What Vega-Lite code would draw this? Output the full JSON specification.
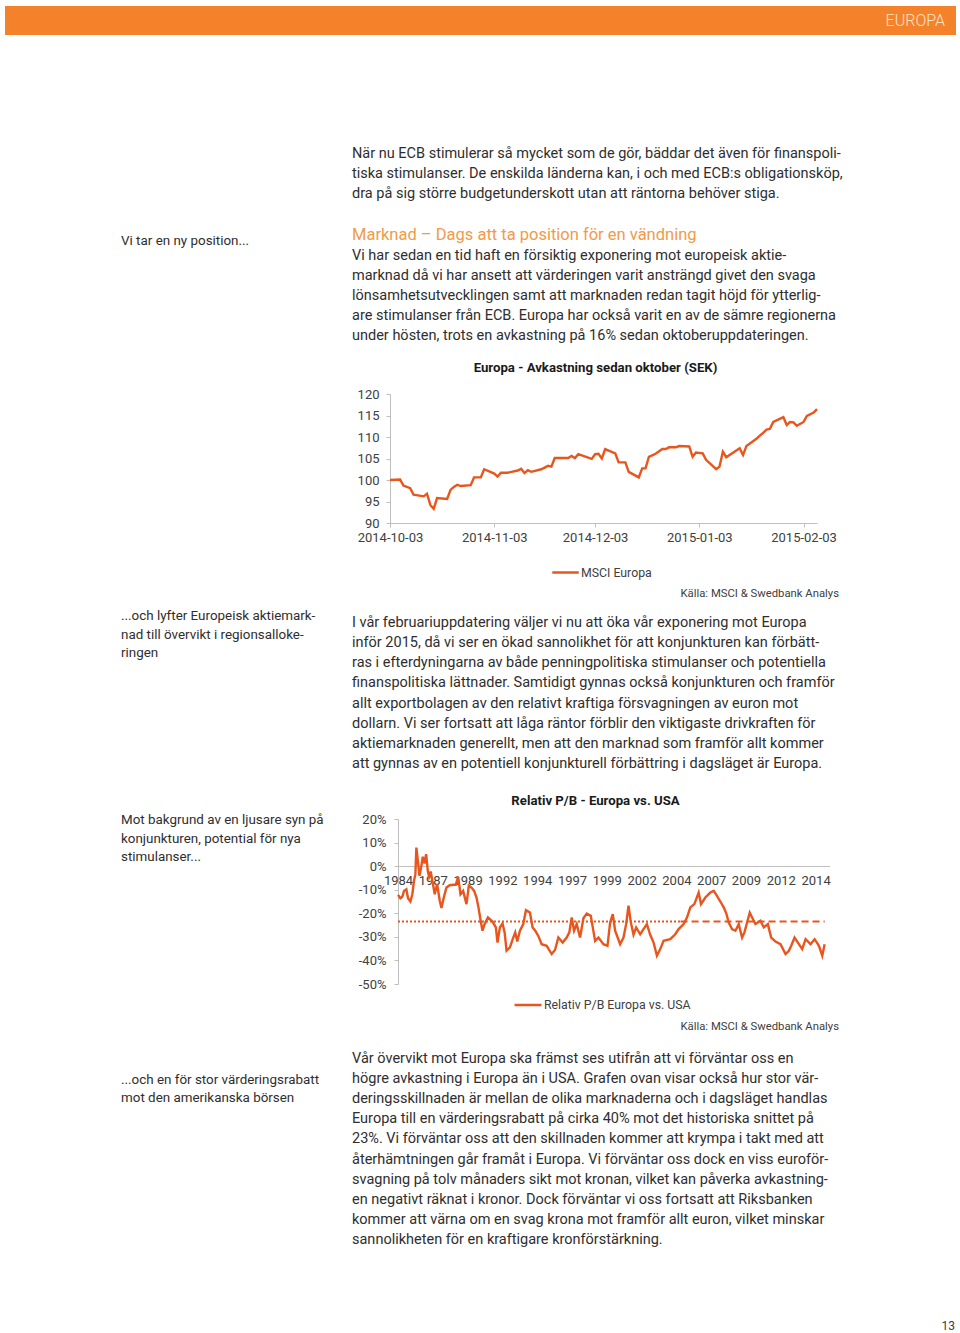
{
  "$schema": "https://vega.github.io/schema/vega-lite/v6.json",
  "width": 960,
  "height": 1333,
  "autosize": {"type": "none"},
  "padding": 0,
  "background": "white",
  "config": {"view": {"stroke": null}, "font": "Roboto"},
  "datasets": {
    "lines": [
      {"block": "p1", "line": 1, "text": "När nu ECB stimulerar så mycket som de gör, bäddar det även för finanspoli-"},
      {"block": "p1", "line": 2, "text": "tiska stimulanser. De enskilda länderna kan, i och med ECB:s obligationsköp,"},
      {"block": "p1", "line": 3, "text": "dra på sig större budgetunderskott utan att räntorna behöver stiga."},
      {"block": "s1", "line": 1, "text": "Vi tar en ny position..."},
      {"block": "h1", "line": 1, "text": "Marknad – Dags att ta position för en vändning"},
      {"block": "p2", "line": 1, "text": "Vi har sedan en tid haft en försiktig exponering mot europeisk aktie-"},
      {"block": "p2", "line": 2, "text": "marknad då vi har ansett att värderingen varit ansträngd givet den svaga"},
      {"block": "p2", "line": 3, "text": "lönsamhetsutvecklingen samt att marknaden redan tagit höjd för ytterlig-"},
      {"block": "p2", "line": 4, "text": "are stimulanser från ECB. Europa har också varit en av de sämre regionerna"},
      {"block": "p2", "line": 5, "text": "under hösten, trots en avkastning på 16% sedan oktoberuppdateringen."},
      {"block": "t1", "line": 1, "text": "Europa - Avkastning sedan oktober (SEK)"},
      {"block": "k1", "line": 1, "text": "Källa: MSCI & Swedbank Analys"},
      {"block": "s2", "line": 1, "text": "...och lyfter Europeisk aktiemark-"},
      {"block": "s2", "line": 2, "text": "nad till övervikt i regionsalloke-"},
      {"block": "s2", "line": 3, "text": "ringen"},
      {"block": "p3", "line": 1, "text": "I vår februariuppdatering väljer vi nu att öka vår exponering mot Europa"},
      {"block": "p3", "line": 2, "text": "inför 2015, då vi ser en ökad sannolikhet för att konjunkturen kan förbätt-"},
      {"block": "p3", "line": 3, "text": "ras i efterdyningarna av både penningpolitiska stimulanser och potentiella"},
      {"block": "p3", "line": 4, "text": "finanspolitiska lättnader. Samtidigt gynnas också konjunkturen och framför"},
      {"block": "p3", "line": 5, "text": "allt exportbolagen av den relativt kraftiga försvagningen av euron mot"},
      {"block": "p3", "line": 6, "text": "dollarn. Vi ser fortsatt att låga räntor förblir den viktigaste drivkraften för"},
      {"block": "p3", "line": 7, "text": "aktiemarknaden generellt, men att den marknad som framför allt kommer"},
      {"block": "p3", "line": 8, "text": "att gynnas av en potentiell konjunkturell förbättring i dagsläget är Europa."},
      {"block": "t2", "line": 1, "text": "Relativ P/B - Europa vs. USA"},
      {"block": "s3", "line": 1, "text": "Mot bakgrund av en ljusare syn på"},
      {"block": "s3", "line": 2, "text": "konjunkturen, potential för nya"},
      {"block": "s3", "line": 3, "text": "stimulanser..."},
      {"block": "k2", "line": 1, "text": "Källa: MSCI & Swedbank Analys"},
      {"block": "p4", "line": 1, "text": "Vår övervikt mot Europa ska främst ses utifrån att vi förväntar oss en"},
      {"block": "p4", "line": 2, "text": "högre avkastning i Europa än i USA. Grafen ovan visar också hur stor vär-"},
      {"block": "p4", "line": 3, "text": "deringsskillnaden är mellan de olika marknaderna och i dagsläget handlas"},
      {"block": "p4", "line": 4, "text": "Europa till en värderingsrabatt på cirka 40% mot det historiska snittet på"},
      {"block": "p4", "line": 5, "text": "23%. Vi förväntar oss att den skillnaden kommer att krympa i takt med att"},
      {"block": "p4", "line": 6, "text": "återhämtningen går framåt i Europa. Vi förväntar oss dock en viss euroför-"},
      {"block": "p4", "line": 7, "text": "svagning på tolv månaders sikt mot kronan, vilket kan påverka avkastning-"},
      {"block": "p4", "line": 8, "text": "en negativt räknat i kronor. Dock förväntar vi oss fortsatt att Riksbanken"},
      {"block": "p4", "line": 9, "text": "kommer att värna om en svag krona mot framför allt euron, vilket minskar"},
      {"block": "p4", "line": 10, "text": "sannolikheten för en kraftigare kronförstärkning."},
      {"block": "s4", "line": 1, "text": "...och en för stor värderingsrabatt"},
      {"block": "s4", "line": 2, "text": "mot den amerikanska börsen"},
      {"block": "pg", "line": 1, "text": "13"}
    ],
    "msci": [
      {"date": "2014-10-03", "value": 100.0, "series": "MSCI Europa"},
      {"date": "2014-10-06", "value": 100.1, "series": "MSCI Europa"},
      {"date": "2014-10-07", "value": 98.7, "series": "MSCI Europa"},
      {"date": "2014-10-08", "value": 98.4, "series": "MSCI Europa"},
      {"date": "2014-10-09", "value": 98.1, "series": "MSCI Europa"},
      {"date": "2014-10-10", "value": 96.6, "series": "MSCI Europa"},
      {"date": "2014-10-13", "value": 96.2, "series": "MSCI Europa"},
      {"date": "2014-10-14", "value": 96.8, "series": "MSCI Europa"},
      {"date": "2014-10-15", "value": 94.2, "series": "MSCI Europa"},
      {"date": "2014-10-16", "value": 93.3, "series": "MSCI Europa"},
      {"date": "2014-10-17", "value": 95.8, "series": "MSCI Europa"},
      {"date": "2014-10-20", "value": 95.6, "series": "MSCI Europa"},
      {"date": "2014-10-21", "value": 97.7, "series": "MSCI Europa"},
      {"date": "2014-10-22", "value": 98.4, "series": "MSCI Europa"},
      {"date": "2014-10-23", "value": 98.9, "series": "MSCI Europa"},
      {"date": "2014-10-24", "value": 98.6, "series": "MSCI Europa"},
      {"date": "2014-10-27", "value": 98.8, "series": "MSCI Europa"},
      {"date": "2014-10-28", "value": 100.6, "series": "MSCI Europa"},
      {"date": "2014-10-30", "value": 100.6, "series": "MSCI Europa"},
      {"date": "2014-10-31", "value": 102.5, "series": "MSCI Europa"},
      {"date": "2014-11-03", "value": 101.5, "series": "MSCI Europa"},
      {"date": "2014-11-04", "value": 100.8, "series": "MSCI Europa"},
      {"date": "2014-11-05", "value": 101.7, "series": "MSCI Europa"},
      {"date": "2014-11-07", "value": 101.7, "series": "MSCI Europa"},
      {"date": "2014-11-10", "value": 102.2, "series": "MSCI Europa"},
      {"date": "2014-11-11", "value": 102.6, "series": "MSCI Europa"},
      {"date": "2014-11-12", "value": 101.6, "series": "MSCI Europa"},
      {"date": "2014-11-13", "value": 102.3, "series": "MSCI Europa"},
      {"date": "2014-11-14", "value": 101.9, "series": "MSCI Europa"},
      {"date": "2014-11-17", "value": 102.5, "series": "MSCI Europa"},
      {"date": "2014-11-19", "value": 103.3, "series": "MSCI Europa"},
      {"date": "2014-11-20", "value": 103.1, "series": "MSCI Europa"},
      {"date": "2014-11-21", "value": 105.1, "series": "MSCI Europa"},
      {"date": "2014-11-25", "value": 105.1, "series": "MSCI Europa"},
      {"date": "2014-11-26", "value": 105.6, "series": "MSCI Europa"},
      {"date": "2014-11-27", "value": 105.1, "series": "MSCI Europa"},
      {"date": "2014-11-28", "value": 106.0, "series": "MSCI Europa"},
      {"date": "2014-12-02", "value": 104.9, "series": "MSCI Europa"},
      {"date": "2014-12-03", "value": 106.0, "series": "MSCI Europa"},
      {"date": "2014-12-04", "value": 106.1, "series": "MSCI Europa"},
      {"date": "2014-12-05", "value": 105.0, "series": "MSCI Europa"},
      {"date": "2014-12-06", "value": 107.2, "series": "MSCI Europa"},
      {"date": "2014-12-09", "value": 106.2, "series": "MSCI Europa"},
      {"date": "2014-12-10", "value": 104.1, "series": "MSCI Europa"},
      {"date": "2014-12-12", "value": 104.1, "series": "MSCI Europa"},
      {"date": "2014-12-13", "value": 101.9, "series": "MSCI Europa"},
      {"date": "2014-12-16", "value": 100.6, "series": "MSCI Europa"},
      {"date": "2014-12-17", "value": 102.7, "series": "MSCI Europa"},
      {"date": "2014-12-18", "value": 102.7, "series": "MSCI Europa"},
      {"date": "2014-12-19", "value": 105.4, "series": "MSCI Europa"},
      {"date": "2014-12-21", "value": 106.1, "series": "MSCI Europa"},
      {"date": "2014-12-23", "value": 107.2, "series": "MSCI Europa"},
      {"date": "2014-12-24", "value": 107.2, "series": "MSCI Europa"},
      {"date": "2014-12-25", "value": 107.6, "series": "MSCI Europa"},
      {"date": "2014-12-27", "value": 107.6, "series": "MSCI Europa"},
      {"date": "2014-12-28", "value": 107.9, "series": "MSCI Europa"},
      {"date": "2014-12-31", "value": 107.8, "series": "MSCI Europa"},
      {"date": "2015-01-01", "value": 105.4, "series": "MSCI Europa"},
      {"date": "2015-01-02", "value": 106.4, "series": "MSCI Europa"},
      {"date": "2015-01-04", "value": 106.2, "series": "MSCI Europa"},
      {"date": "2015-01-05", "value": 104.7, "series": "MSCI Europa"},
      {"date": "2015-01-08", "value": 102.5, "series": "MSCI Europa"},
      {"date": "2015-01-09", "value": 103.1, "series": "MSCI Europa"},
      {"date": "2015-01-10", "value": 106.6, "series": "MSCI Europa"},
      {"date": "2015-01-11", "value": 105.3, "series": "MSCI Europa"},
      {"date": "2015-01-15", "value": 107.4, "series": "MSCI Europa"},
      {"date": "2015-01-16", "value": 105.8, "series": "MSCI Europa"},
      {"date": "2015-01-17", "value": 107.9, "series": "MSCI Europa"},
      {"date": "2015-01-20", "value": 109.6, "series": "MSCI Europa"},
      {"date": "2015-01-23", "value": 111.7, "series": "MSCI Europa"},
      {"date": "2015-01-24", "value": 111.9, "series": "MSCI Europa"},
      {"date": "2015-01-25", "value": 113.5, "series": "MSCI Europa"},
      {"date": "2015-01-28", "value": 114.6, "series": "MSCI Europa"},
      {"date": "2015-01-29", "value": 112.8, "series": "MSCI Europa"},
      {"date": "2015-01-30", "value": 113.5, "series": "MSCI Europa"},
      {"date": "2015-01-31", "value": 113.4, "series": "MSCI Europa"},
      {"date": "2015-02-01", "value": 112.6, "series": "MSCI Europa"},
      {"date": "2015-02-03", "value": 113.5, "series": "MSCI Europa"},
      {"date": "2015-02-04", "value": 114.9, "series": "MSCI Europa"},
      {"date": "2015-02-06", "value": 115.7, "series": "MSCI Europa"},
      {"date": "2015-02-07", "value": 116.5, "series": "MSCI Europa"}
    ],
    "pb": [
      {"year": 1984.00, "value": -12.2, "series": "Relativ P/B Europa vs. USA"},
      {"year": 1984.17, "value": -13.6, "series": "Relativ P/B Europa vs. USA"},
      {"year": 1984.31, "value": -13.0, "series": "Relativ P/B Europa vs. USA"},
      {"year": 1984.43, "value": -10.5, "series": "Relativ P/B Europa vs. USA"},
      {"year": 1984.60, "value": -9.8, "series": "Relativ P/B Europa vs. USA"},
      {"year": 1984.72, "value": -13.6, "series": "Relativ P/B Europa vs. USA"},
      {"year": 1984.89, "value": -15.0, "series": "Relativ P/B Europa vs. USA"},
      {"year": 1985.03, "value": -11.9, "series": "Relativ P/B Europa vs. USA"},
      {"year": 1985.15, "value": -6.2, "series": "Relativ P/B Europa vs. USA"},
      {"year": 1985.25, "value": -3.4, "series": "Relativ P/B Europa vs. USA"},
      {"year": 1985.32, "value": 7.9, "series": "Relativ P/B Europa vs. USA"},
      {"year": 1985.44, "value": 1.6, "series": "Relativ P/B Europa vs. USA"},
      {"year": 1985.54, "value": -4.1, "series": "Relativ P/B Europa vs. USA"},
      {"year": 1985.66, "value": -0.6, "series": "Relativ P/B Europa vs. USA"},
      {"year": 1985.78, "value": 4.0, "series": "Relativ P/B Europa vs. USA"},
      {"year": 1985.90, "value": 1.1, "series": "Relativ P/B Europa vs. USA"},
      {"year": 1986.02, "value": 5.1, "series": "Relativ P/B Europa vs. USA"},
      {"year": 1986.14, "value": -2.0, "series": "Relativ P/B Europa vs. USA"},
      {"year": 1986.23, "value": -4.5, "series": "Relativ P/B Europa vs. USA"},
      {"year": 1986.35, "value": -2.3, "series": "Relativ P/B Europa vs. USA"},
      {"year": 1986.47, "value": -6.2, "series": "Relativ P/B Europa vs. USA"},
      {"year": 1986.64, "value": -11.9, "series": "Relativ P/B Europa vs. USA"},
      {"year": 1986.81, "value": -7.6, "series": "Relativ P/B Europa vs. USA"},
      {"year": 1987.00, "value": -14.7, "series": "Relativ P/B Europa vs. USA"},
      {"year": 1987.12, "value": -17.8, "series": "Relativ P/B Europa vs. USA"},
      {"year": 1987.29, "value": -13.3, "series": "Relativ P/B Europa vs. USA"},
      {"year": 1987.48, "value": -9.1, "series": "Relativ P/B Europa vs. USA"},
      {"year": 1987.72, "value": -8.1, "series": "Relativ P/B Europa vs. USA"},
      {"year": 1987.96, "value": -7.9, "series": "Relativ P/B Europa vs. USA"},
      {"year": 1988.15, "value": -7.9, "series": "Relativ P/B Europa vs. USA"},
      {"year": 1988.32, "value": -4.5, "series": "Relativ P/B Europa vs. USA"},
      {"year": 1988.49, "value": -11.9, "series": "Relativ P/B Europa vs. USA"},
      {"year": 1988.68, "value": -10.5, "series": "Relativ P/B Europa vs. USA"},
      {"year": 1988.92, "value": -16.1, "series": "Relativ P/B Europa vs. USA"},
      {"year": 1989.09, "value": -8.3, "series": "Relativ P/B Europa vs. USA"},
      {"year": 1989.28, "value": -9.1, "series": "Relativ P/B Europa vs. USA"},
      {"year": 1989.47, "value": -10.5, "series": "Relativ P/B Europa vs. USA"},
      {"year": 1989.64, "value": -13.3, "series": "Relativ P/B Europa vs. USA"},
      {"year": 1989.78, "value": -17.5, "series": "Relativ P/B Europa vs. USA"},
      {"year": 1989.90, "value": -21.8, "series": "Relativ P/B Europa vs. USA"},
      {"year": 1990.07, "value": -27.4, "series": "Relativ P/B Europa vs. USA"},
      {"year": 1990.22, "value": -24.6, "series": "Relativ P/B Europa vs. USA"},
      {"year": 1990.46, "value": -21.8, "series": "Relativ P/B Europa vs. USA"},
      {"year": 1990.79, "value": -23.5, "series": "Relativ P/B Europa vs. USA"},
      {"year": 1991.03, "value": -26.0, "series": "Relativ P/B Europa vs. USA"},
      {"year": 1991.15, "value": -32.4, "series": "Relativ P/B Europa vs. USA"},
      {"year": 1991.32, "value": -26.0, "series": "Relativ P/B Europa vs. USA"},
      {"year": 1991.51, "value": -24.3, "series": "Relativ P/B Europa vs. USA"},
      {"year": 1991.66, "value": -28.1, "series": "Relativ P/B Europa vs. USA"},
      {"year": 1991.80, "value": -35.9, "series": "Relativ P/B Europa vs. USA"},
      {"year": 1992.04, "value": -34.5, "series": "Relativ P/B Europa vs. USA"},
      {"year": 1992.28, "value": -30.3, "series": "Relativ P/B Europa vs. USA"},
      {"year": 1992.42, "value": -28.1, "series": "Relativ P/B Europa vs. USA"},
      {"year": 1992.57, "value": -32.0, "series": "Relativ P/B Europa vs. USA"},
      {"year": 1992.76, "value": -27.4, "series": "Relativ P/B Europa vs. USA"},
      {"year": 1993.00, "value": -24.6, "series": "Relativ P/B Europa vs. USA"},
      {"year": 1993.19, "value": -18.7, "series": "Relativ P/B Europa vs. USA"},
      {"year": 1993.48, "value": -19.7, "series": "Relativ P/B Europa vs. USA"},
      {"year": 1993.67, "value": -26.0, "series": "Relativ P/B Europa vs. USA"},
      {"year": 1993.86, "value": -27.4, "series": "Relativ P/B Europa vs. USA"},
      {"year": 1994.08, "value": -29.6, "series": "Relativ P/B Europa vs. USA"},
      {"year": 1994.32, "value": -33.1, "series": "Relativ P/B Europa vs. USA"},
      {"year": 1994.68, "value": -33.8, "series": "Relativ P/B Europa vs. USA"},
      {"year": 1995.04, "value": -37.3, "series": "Relativ P/B Europa vs. USA"},
      {"year": 1995.28, "value": -35.6, "series": "Relativ P/B Europa vs. USA"},
      {"year": 1995.52, "value": -30.3, "series": "Relativ P/B Europa vs. USA"},
      {"year": 1995.83, "value": -32.4, "series": "Relativ P/B Europa vs. USA"},
      {"year": 1996.12, "value": -30.3, "series": "Relativ P/B Europa vs. USA"},
      {"year": 1996.31, "value": -28.1, "series": "Relativ P/B Europa vs. USA"},
      {"year": 1996.48, "value": -21.8, "series": "Relativ P/B Europa vs. USA"},
      {"year": 1996.65, "value": -27.4, "series": "Relativ P/B Europa vs. USA"},
      {"year": 1996.84, "value": -24.6, "series": "Relativ P/B Europa vs. USA"},
      {"year": 1997.08, "value": -30.3, "series": "Relativ P/B Europa vs. USA"},
      {"year": 1997.32, "value": -22.1, "series": "Relativ P/B Europa vs. USA"},
      {"year": 1997.56, "value": -20.1, "series": "Relativ P/B Europa vs. USA"},
      {"year": 1997.85, "value": -21.1, "series": "Relativ P/B Europa vs. USA"},
      {"year": 1998.16, "value": -31.7, "series": "Relativ P/B Europa vs. USA"},
      {"year": 1998.40, "value": -30.3, "series": "Relativ P/B Europa vs. USA"},
      {"year": 1998.76, "value": -33.1, "series": "Relativ P/B Europa vs. USA"},
      {"year": 1999.05, "value": -33.8, "series": "Relativ P/B Europa vs. USA"},
      {"year": 1999.24, "value": -23.9, "series": "Relativ P/B Europa vs. USA"},
      {"year": 1999.43, "value": -20.4, "series": "Relativ P/B Europa vs. USA"},
      {"year": 1999.60, "value": -27.4, "series": "Relativ P/B Europa vs. USA"},
      {"year": 1999.96, "value": -33.1, "series": "Relativ P/B Europa vs. USA"},
      {"year": 2000.20, "value": -30.3, "series": "Relativ P/B Europa vs. USA"},
      {"year": 2000.39, "value": -24.6, "series": "Relativ P/B Europa vs. USA"},
      {"year": 2000.56, "value": -16.8, "series": "Relativ P/B Europa vs. USA"},
      {"year": 2000.73, "value": -23.9, "series": "Relativ P/B Europa vs. USA"},
      {"year": 2000.92, "value": -29.1, "series": "Relativ P/B Europa vs. USA"},
      {"year": 2001.11, "value": -26.0, "series": "Relativ P/B Europa vs. USA"},
      {"year": 2001.40, "value": -28.9, "series": "Relativ P/B Europa vs. USA"},
      {"year": 2001.64, "value": -26.7, "series": "Relativ P/B Europa vs. USA"},
      {"year": 2001.88, "value": -24.6, "series": "Relativ P/B Europa vs. USA"},
      {"year": 2002.12, "value": -29.1, "series": "Relativ P/B Europa vs. USA"},
      {"year": 2002.36, "value": -32.4, "series": "Relativ P/B Europa vs. USA"},
      {"year": 2002.60, "value": -38.0, "series": "Relativ P/B Europa vs. USA"},
      {"year": 2002.84, "value": -35.2, "series": "Relativ P/B Europa vs. USA"},
      {"year": 2003.08, "value": -31.7, "series": "Relativ P/B Europa vs. USA"},
      {"year": 2003.56, "value": -31.0, "series": "Relativ P/B Europa vs. USA"},
      {"year": 2003.92, "value": -28.9, "series": "Relativ P/B Europa vs. USA"},
      {"year": 2004.16, "value": -26.7, "series": "Relativ P/B Europa vs. USA"},
      {"year": 2004.52, "value": -24.6, "series": "Relativ P/B Europa vs. USA"},
      {"year": 2004.76, "value": -21.8, "series": "Relativ P/B Europa vs. USA"},
      {"year": 2005.00, "value": -17.5, "series": "Relativ P/B Europa vs. USA"},
      {"year": 2005.29, "value": -16.1, "series": "Relativ P/B Europa vs. USA"},
      {"year": 2005.60, "value": -11.2, "series": "Relativ P/B Europa vs. USA"},
      {"year": 2005.77, "value": -16.1, "series": "Relativ P/B Europa vs. USA"},
      {"year": 2006.08, "value": -13.3, "series": "Relativ P/B Europa vs. USA"},
      {"year": 2006.44, "value": -11.2, "series": "Relativ P/B Europa vs. USA"},
      {"year": 2006.68, "value": -10.5, "series": "Relativ P/B Europa vs. USA"},
      {"year": 2006.87, "value": -12.2, "series": "Relativ P/B Europa vs. USA"},
      {"year": 2007.16, "value": -15.0, "series": "Relativ P/B Europa vs. USA"},
      {"year": 2007.40, "value": -17.5, "series": "Relativ P/B Europa vs. USA"},
      {"year": 2007.59, "value": -20.1, "series": "Relativ P/B Europa vs. USA"},
      {"year": 2007.76, "value": -23.9, "series": "Relativ P/B Europa vs. USA"},
      {"year": 2008.00, "value": -26.7, "series": "Relativ P/B Europa vs. USA"},
      {"year": 2008.24, "value": -27.4, "series": "Relativ P/B Europa vs. USA"},
      {"year": 2008.48, "value": -24.6, "series": "Relativ P/B Europa vs. USA"},
      {"year": 2008.72, "value": -30.3, "series": "Relativ P/B Europa vs. USA"},
      {"year": 2008.89, "value": -28.1, "series": "Relativ P/B Europa vs. USA"},
      {"year": 2009.08, "value": -23.9, "series": "Relativ P/B Europa vs. USA"},
      {"year": 2009.27, "value": -19.7, "series": "Relativ P/B Europa vs. USA"},
      {"year": 2009.44, "value": -21.8, "series": "Relativ P/B Europa vs. USA"},
      {"year": 2009.68, "value": -24.6, "series": "Relativ P/B Europa vs. USA"},
      {"year": 2010.04, "value": -23.2, "series": "Relativ P/B Europa vs. USA"},
      {"year": 2010.28, "value": -26.0, "series": "Relativ P/B Europa vs. USA"},
      {"year": 2010.57, "value": -24.6, "series": "Relativ P/B Europa vs. USA"},
      {"year": 2010.81, "value": -30.3, "series": "Relativ P/B Europa vs. USA"},
      {"year": 2011.12, "value": -32.0, "series": "Relativ P/B Europa vs. USA"},
      {"year": 2011.48, "value": -33.1, "series": "Relativ P/B Europa vs. USA"},
      {"year": 2011.84, "value": -37.3, "series": "Relativ P/B Europa vs. USA"},
      {"year": 2012.08, "value": -35.9, "series": "Relativ P/B Europa vs. USA"},
      {"year": 2012.25, "value": -33.8, "series": "Relativ P/B Europa vs. USA"},
      {"year": 2012.49, "value": -30.3, "series": "Relativ P/B Europa vs. USA"},
      {"year": 2012.80, "value": -33.1, "series": "Relativ P/B Europa vs. USA"},
      {"year": 2013.04, "value": -35.2, "series": "Relativ P/B Europa vs. USA"},
      {"year": 2013.28, "value": -31.0, "series": "Relativ P/B Europa vs. USA"},
      {"year": 2013.64, "value": -33.1, "series": "Relativ P/B Europa vs. USA"},
      {"year": 2013.93, "value": -31.0, "series": "Relativ P/B Europa vs. USA"},
      {"year": 2014.24, "value": -33.8, "series": "Relativ P/B Europa vs. USA"},
      {"year": 2014.48, "value": -38.0, "series": "Relativ P/B Europa vs. USA"},
      {"year": 2014.65, "value": -33.1, "series": "Relativ P/B Europa vs. USA"}
    ],
    "pbavg": [
      {"start": 1984.0, "end": 2004.3, "mean": -23.5, "segment": "a"},
      {"start": 2004.3, "end": 2014.65, "mean": -23.5, "segment": "b"}
    ]
  },
  "layer": [
    {
      "data": {"values": [{"label": "EUROPA"}]},
      "layer": [
        {
          "mark": {"type": "rect", "color": "#F4822A"},
          "encoding": {
            "x": {"datum": 0, "type": "quantitative", "scale": {"domain": [0, 1], "range": [5, 956], "zero": false, "nice": false}, "axis": null},
            "x2": {"datum": 1},
            "y": {"datum": 0, "type": "quantitative", "scale": {"domain": [0, 1], "range": [6, 35], "zero": false, "nice": false}, "axis": null},
            "y2": {"datum": 1}
          }
        },
        {
          "mark": {"type": "text", "align": "right", "baseline": "middle", "dx": -11, "fontSize": 16, "fontWeight": 300, "color": "#FDE3C6"},
          "encoding": {
            "x": {"datum": 1, "type": "quantitative"},
            "y": {"datum": 0.5, "type": "quantitative"},
            "text": {"field": "label"}
          }
        }
      ]
    },
    {
      "data": {"name": "lines"},
      "transform": [{"filter": "datum.block === 'p1'"}],
      "mark": {"type": "text", "align": "left", "baseline": "middle", "fontSize": 14.5, "color": "#2E2E2E"},
      "encoding": {
        "x": {"datum": 0, "type": "quantitative", "scale": {"domain": [0, 1], "range": [352, 839], "zero": false, "nice": false}, "axis": null},
        "y": {"field": "line", "type": "quantitative", "scale": {"domain": [1, 3], "range": [154, 194], "zero": false, "nice": false}, "axis": null},
        "text": {"field": "text"}
      }
    },
    {
      "data": {"name": "lines"},
      "transform": [{"filter": "datum.block === 's1'"}],
      "mark": {"type": "text", "align": "left", "baseline": "middle", "fontSize": 13.4, "color": "#2E2E2E"},
      "encoding": {
        "x": {"datum": 0, "type": "quantitative", "scale": {"domain": [0, 1], "range": [121, 330], "zero": false, "nice": false}, "axis": null},
        "y": {"field": "line", "type": "quantitative", "scale": {"domain": [1, 2], "range": [241, 260], "zero": false, "nice": false}, "axis": null},
        "text": {"field": "text"}
      }
    },
    {
      "data": {"name": "lines"},
      "transform": [{"filter": "datum.block === 'h1'"}],
      "mark": {"type": "text", "align": "left", "baseline": "middle", "fontSize": 16.5, "color": "#F29A48"},
      "encoding": {
        "x": {"datum": 0, "type": "quantitative", "scale": {"domain": [0, 1], "range": [352, 839], "zero": false, "nice": false}, "axis": null},
        "y": {"field": "line", "type": "quantitative", "scale": {"domain": [1, 2], "range": [235, 255], "zero": false, "nice": false}, "axis": null},
        "text": {"field": "text"}
      }
    },
    {
      "data": {"name": "lines"},
      "transform": [{"filter": "datum.block === 'p2'"}],
      "mark": {"type": "text", "align": "left", "baseline": "middle", "fontSize": 14.5, "color": "#2E2E2E"},
      "encoding": {
        "x": {"datum": 0, "type": "quantitative", "scale": {"domain": [0, 1], "range": [352, 839], "zero": false, "nice": false}, "axis": null},
        "y": {"field": "line", "type": "quantitative", "scale": {"domain": [1, 5], "range": [256, 336], "zero": false, "nice": false}, "axis": null},
        "text": {"field": "text"}
      }
    },
    {
      "data": {"name": "lines"},
      "transform": [{"filter": "datum.block === 't1'"}],
      "mark": {"type": "text", "align": "center", "baseline": "middle", "fontSize": 13.2, "fontWeight": "bold", "color": "#1A1A1A"},
      "encoding": {
        "x": {"datum": 0.5, "type": "quantitative", "scale": {"domain": [0, 1], "range": [352, 839], "zero": false, "nice": false}, "axis": null},
        "y": {"field": "line", "type": "quantitative", "scale": {"domain": [1, 2], "range": [368, 388], "zero": false, "nice": false}, "axis": null},
        "text": {"field": "text"}
      }
    },
    {
      "data": {"name": "lines"},
      "transform": [{"filter": "datum.block === 'k1'"}],
      "mark": {"type": "text", "align": "right", "baseline": "middle", "fontSize": 11.3, "color": "#404040"},
      "encoding": {
        "x": {"datum": 1, "type": "quantitative", "scale": {"domain": [0, 1], "range": [352, 839], "zero": false, "nice": false}, "axis": null},
        "y": {"field": "line", "type": "quantitative", "scale": {"domain": [1, 2], "range": [594, 614], "zero": false, "nice": false}, "axis": null},
        "text": {"field": "text"}
      }
    },
    {
      "data": {"name": "lines"},
      "transform": [{"filter": "datum.block === 's2'"}],
      "mark": {"type": "text", "align": "left", "baseline": "middle", "fontSize": 13.4, "color": "#2E2E2E"},
      "encoding": {
        "x": {"datum": 0, "type": "quantitative", "scale": {"domain": [0, 1], "range": [121, 330], "zero": false, "nice": false}, "axis": null},
        "y": {"field": "line", "type": "quantitative", "scale": {"domain": [1, 3], "range": [616, 653], "zero": false, "nice": false}, "axis": null},
        "text": {"field": "text"}
      }
    },
    {
      "data": {"name": "lines"},
      "transform": [{"filter": "datum.block === 'p3'"}],
      "mark": {"type": "text", "align": "left", "baseline": "middle", "fontSize": 14.5, "color": "#2E2E2E"},
      "encoding": {
        "x": {"datum": 0, "type": "quantitative", "scale": {"domain": [0, 1], "range": [352, 839], "zero": false, "nice": false}, "axis": null},
        "y": {"field": "line", "type": "quantitative", "scale": {"domain": [1, 8], "range": [623, 764], "zero": false, "nice": false}, "axis": null},
        "text": {"field": "text"}
      }
    },
    {
      "data": {"name": "lines"},
      "transform": [{"filter": "datum.block === 't2'"}],
      "mark": {"type": "text", "align": "center", "baseline": "middle", "fontSize": 13.2, "fontWeight": "bold", "color": "#1A1A1A"},
      "encoding": {
        "x": {"datum": 0.5, "type": "quantitative", "scale": {"domain": [0, 1], "range": [352, 839], "zero": false, "nice": false}, "axis": null},
        "y": {"field": "line", "type": "quantitative", "scale": {"domain": [1, 2], "range": [801, 821], "zero": false, "nice": false}, "axis": null},
        "text": {"field": "text"}
      }
    },
    {
      "data": {"name": "lines"},
      "transform": [{"filter": "datum.block === 's3'"}],
      "mark": {"type": "text", "align": "left", "baseline": "middle", "fontSize": 13.4, "color": "#2E2E2E"},
      "encoding": {
        "x": {"datum": 0, "type": "quantitative", "scale": {"domain": [0, 1], "range": [121, 330], "zero": false, "nice": false}, "axis": null},
        "y": {"field": "line", "type": "quantitative", "scale": {"domain": [1, 3], "range": [820, 857], "zero": false, "nice": false}, "axis": null},
        "text": {"field": "text"}
      }
    },
    {
      "data": {"name": "lines"},
      "transform": [{"filter": "datum.block === 'k2'"}],
      "mark": {"type": "text", "align": "right", "baseline": "middle", "fontSize": 11.3, "color": "#404040"},
      "encoding": {
        "x": {"datum": 1, "type": "quantitative", "scale": {"domain": [0, 1], "range": [352, 839], "zero": false, "nice": false}, "axis": null},
        "y": {"field": "line", "type": "quantitative", "scale": {"domain": [1, 2], "range": [1027, 1047], "zero": false, "nice": false}, "axis": null},
        "text": {"field": "text"}
      }
    },
    {
      "data": {"name": "lines"},
      "transform": [{"filter": "datum.block === 'p4'"}],
      "mark": {"type": "text", "align": "left", "baseline": "middle", "fontSize": 14.5, "color": "#2E2E2E"},
      "encoding": {
        "x": {"datum": 0, "type": "quantitative", "scale": {"domain": [0, 1], "range": [352, 839], "zero": false, "nice": false}, "axis": null},
        "y": {"field": "line", "type": "quantitative", "scale": {"domain": [1, 10], "range": [1059, 1240], "zero": false, "nice": false}, "axis": null},
        "text": {"field": "text"}
      }
    },
    {
      "data": {"name": "lines"},
      "transform": [{"filter": "datum.block === 's4'"}],
      "mark": {"type": "text", "align": "left", "baseline": "middle", "fontSize": 13.4, "color": "#2E2E2E"},
      "encoding": {
        "x": {"datum": 0, "type": "quantitative", "scale": {"domain": [0, 1], "range": [121, 330], "zero": false, "nice": false}, "axis": null},
        "y": {"field": "line", "type": "quantitative", "scale": {"domain": [1, 2], "range": [1080, 1098], "zero": false, "nice": false}, "axis": null},
        "text": {"field": "text"}
      }
    },
    {
      "data": {"name": "lines"},
      "transform": [{"filter": "datum.block === 'pg'"}],
      "mark": {"type": "text", "align": "right", "baseline": "middle", "fontSize": 12, "color": "#404040"},
      "encoding": {
        "x": {"datum": 1, "type": "quantitative", "scale": {"domain": [0, 1], "range": [352, 955], "zero": false, "nice": false}, "axis": null},
        "y": {"field": "line", "type": "quantitative", "scale": {"domain": [1, 2], "range": [1326, 1346], "zero": false, "nice": false}, "axis": null},
        "text": {"field": "text"}
      }
    },
    {
      "data": {"name": "msci"},
      "mark": {"type": "line", "strokeWidth": 2.4},
      "encoding": {
        "x": {
          "field": "date", "type": "temporal",
          "scale": {"type": "utc", "domain": [{"year": 2014, "month": 10, "date": 3, "utc": true}, {"year": 2015, "month": 2, "date": 7, "utc": true}], "range": [390, 817]},
          "axis": {
            "orient": "bottom",
            "values": [
              {"year": 2014, "month": 10, "date": 3, "utc": true},
              {"year": 2014, "month": 11, "date": 3, "utc": true},
              {"year": 2014, "month": 12, "date": 3, "utc": true},
              {"year": 2015, "month": 1, "date": 3, "utc": true},
              {"year": 2015, "month": 2, "date": 3, "utc": true}
            ],
            "format": "%Y-%m-%d", "title": null, "grid": false, "offset": -810,
            "domainColor": "#BFBFBF", "tickColor": "#BFBFBF", "tickSize": 4,
            "labelFontSize": 13, "labelColor": "#404040", "labelPadding": 4,
            "labelFlush": false, "labelOverlap": false
          }
        },
        "y": {
          "field": "value", "type": "quantitative",
          "scale": {"domain": [90, 120], "range": [523, 394], "zero": false, "nice": false},
          "axis": {
            "orient": "left",
            "values": [90, 95, 100, 105, 110, 115, 120],
            "title": null, "grid": false, "offset": -390,
            "domainColor": "#BFBFBF", "tickColor": "#BFBFBF", "tickSize": 4,
            "labelFontSize": 13, "labelColor": "#404040", "labelPadding": 7
          }
        },
        "color": {
          "field": "series", "type": "nominal",
          "scale": {"range": ["#E8561E"]},
          "legend": {
            "orient": "none", "legendX": 551, "legendY": 558, "title": null, "padding": 0,
            "symbolType": "stroke", "symbolSize": 700, "symbolStrokeWidth": 2.5,
            "labelFontSize": 12.3, "labelColor": "#404040", "labelOffset": 1
          }
        }
      }
    },
    {
      "layer": [
        {
          "data": {"name": "pbavg"},
          "mark": {"type": "rule", "color": "#E8561E", "strokeWidth": 2},
          "encoding": {
            "x": {"field": "start", "type": "quantitative", "scale": {"domain": [1984, 2015], "range": [398, 829.5], "zero": false, "nice": false}},
            "x2": {"field": "end"},
            "y": {"field": "mean", "type": "quantitative", "scale": {"domain": [-50, 20], "range": [984, 819], "zero": false, "nice": false}},
            "strokeDash": {"field": "segment", "type": "nominal", "scale": {"domain": ["a", "b"], "range": [[2, 2], [7, 4]]}, "legend": null}
          }
        },
        {
          "data": {"name": "pb"},
          "mark": {"type": "line", "strokeWidth": 2.4},
          "encoding": {
            "x": {
              "field": "year", "type": "quantitative",
              "scale": {"domain": [1984, 2015], "range": [398, 829.5], "zero": false, "nice": false},
              "axis": {
                "orient": "bottom",
                "values": [1984, 1986.5, 1989, 1991.5, 1994, 1996.5, 1999, 2001.5, 2004, 2006.5, 2009, 2011.5, 2014],
                "labelExpr": "'' + round(datum.value)",
                "title": null, "grid": false, "offset": -467, "ticks": false,
                "domainColor": "#BFBFBF", "labelFontSize": 13, "labelColor": "#404040", "labelPadding": 8,
                "labelFlush": false, "labelOverlap": false
              }
            },
            "y": {
              "field": "value", "type": "quantitative",
              "scale": {"domain": [-50, 20], "range": [984, 819], "zero": false, "nice": false},
              "axis": {
                "orient": "left",
                "values": [-50, -40, -30, -20, -10, 0, 10, 20],
                "labelExpr": "datum.value + '%'",
                "title": null, "grid": false, "offset": -398,
                "domainColor": "#BFBFBF", "tickColor": "#BFBFBF", "tickSize": 4,
                "labelFontSize": 13, "labelColor": "#404040", "labelPadding": 8
              }
            },
            "color": {
              "field": "series", "type": "nominal",
              "scale": {"range": ["#E8561E"]},
              "legend": {
                "orient": "none", "legendX": 513, "legendY": 990, "title": null, "padding": 0,
                "symbolType": "stroke", "symbolSize": 729, "symbolStrokeWidth": 2.5,
                "labelFontSize": 12.3, "labelColor": "#404040", "labelOffset": 1
              }
            }
          }
        }
      ]
    }
  ],
  "resolve": {"scale": {"x": "independent", "y": "independent", "color": "independent", "strokeDash": "independent"}}
}
